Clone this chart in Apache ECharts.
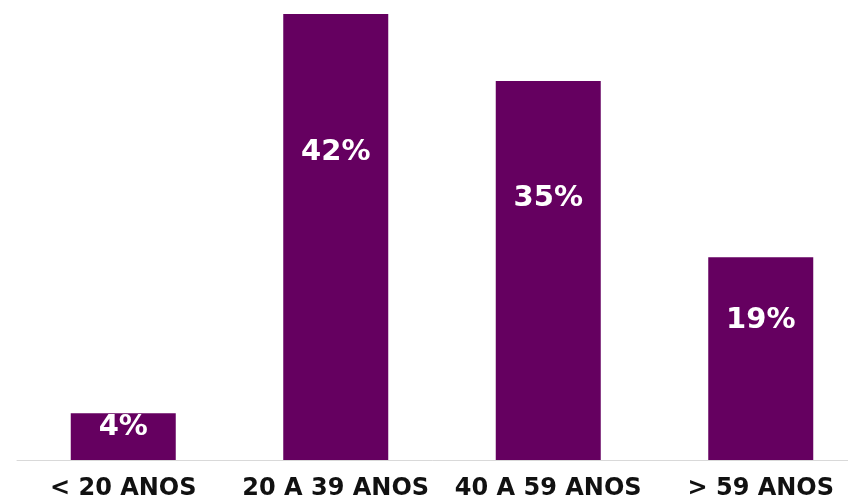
<!DOCTYPE html>
<html>
<head>
<meta charset="utf-8">
<script src="https://cdn.jsdelivr.net/npm/echarts@6/dist/echarts.min.js"></script>
<style>
  html, body { margin: 0; padding: 0; background: #fff; }
  #main { width: 848px; height: 502px; }
</style>
</head>
<body>
<div id="main"></div>
<script>
// faixas etarias
var categories = ['< 20 ANOS', '20 A 39 ANOS', '40 A 59 ANOS', '> 59 ANOS'];
var values = [4.4, 42, 35.7, 19.1];
var labels = ['4%', '42%', '35%', '19%'];

var myChart = echarts.init(document.getElementById('main'));
myChart.setOption({
    animation: false,
    grid: { left: 17, top: 14, width: 850, bottom: 42, outerBoundsMode: 'none' },
    xAxis: {
        type: 'category',
        data: categories,
        axisLine: { lineStyle: { color: '#d9d9d9', width: 1 } },
        axisTick: { show: false },
        axisLabel: {
            color: '#111',
            fontFamily: 'DejaVu Sans',
            fontWeight: 'bold',
            fontSize: 24,
            margin: 17,
            interval: 0
        }
    },
    yAxis: {
        type: 'value',
        min: 0,
        max: 42,
        show: false,
        splitLine: { show: false }
    },
    series: [{
        type: 'bar',
        data: values,
        barWidth: 105,
        itemStyle: { color: '#650060' },
        label: {
            show: true,
            position: ['50%', '31%'],
            align: 'center',
            verticalAlign: 'middle',
            color: '#fff',
            fontFamily: 'DejaVu Sans',
            fontWeight: 'bold',
            fontSize: 29,
            formatter: function (p) { return labels[p.dataIndex]; }
        }
    }]
});
</script>
</body>
</html>
